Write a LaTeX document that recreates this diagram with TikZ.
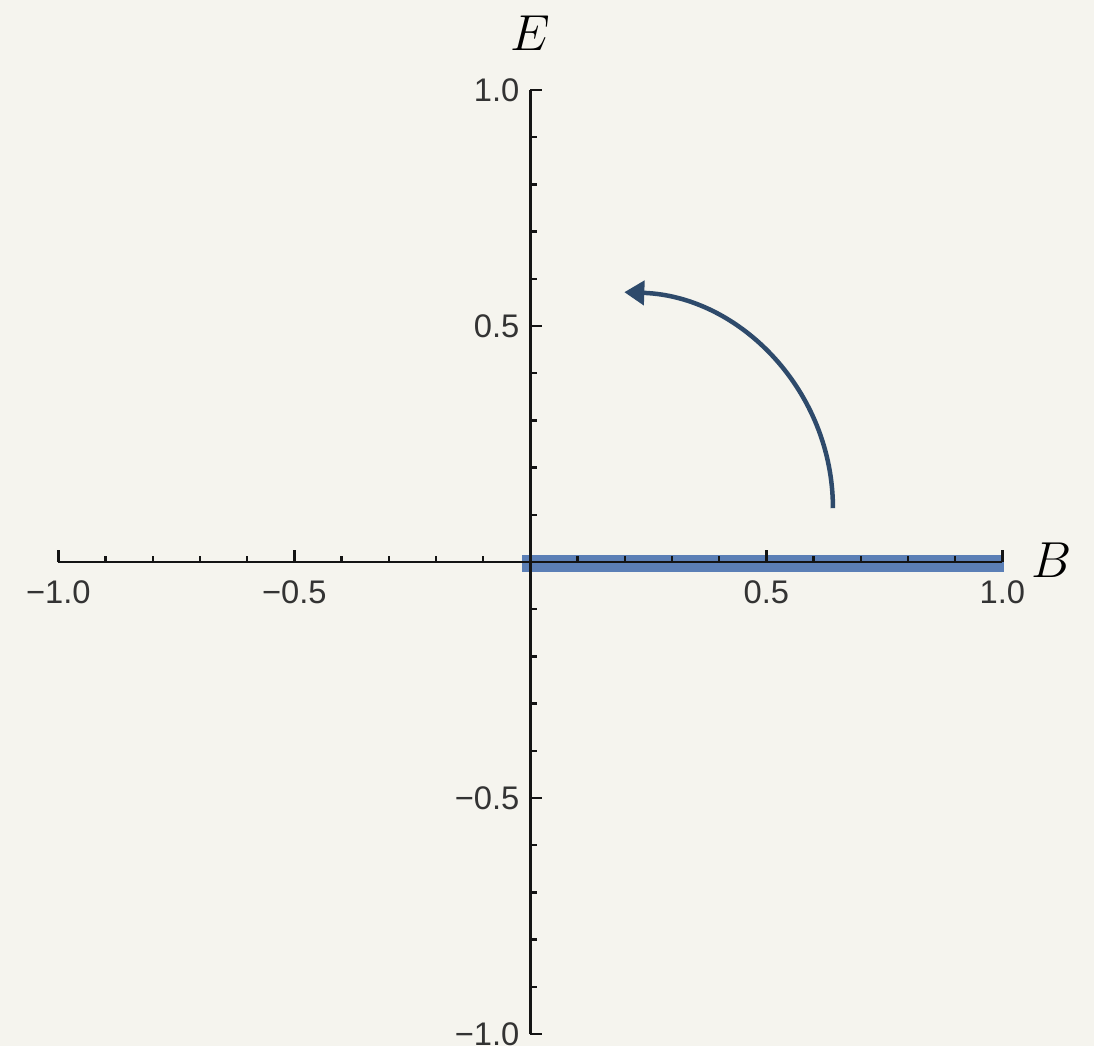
\documentclass[tikz,border=0pt]{standalone}
\usepackage{fontspec}
\newfontfamily\ticksf{Liberation Sans}
\usetikzlibrary{arrows.meta}
\definecolor{bgc}{RGB}{245,244,238}
\definecolor{bandc}{RGB}{91,127,182}
\definecolor{arrowc}{RGB}{46,74,107}
\definecolor{axisc}{RGB}{20,20,20}
\begin{document}
\begin{tikzpicture}[x=4.72cm,y=4.72cm,
  ticklabel/.style={font=\ticksf\fontsize{9.3}{10}\selectfont, text=black!80, inner sep=0pt},
  axisline/.style={draw=axisc, line width=0.027cm},
  majortick/.style={draw=axisc, line width=0.025cm},
  axislabel/.style={font=\fontsize{15}{17}\selectfont, inner sep=0pt},
  turnarrow/.style={draw=arrowc, line width=0.045cm, -{Triangle[length=0.2cm,width=0.24cm]}}]
\useasboundingbox[fill=bgc] (-1.1237,-1.0254) rectangle (1.1941,1.1907);
% band
\fill[bandc] (-0.0178,-0.0212) rectangle (1.0034,0.0148);
% axes
\draw[axisline] (-1,0) -- (1,0);
\draw[axisline] (0,-1) -- (0,1);
\foreach \i in {-10,...,10}{
  \ifnum\i=0\relax\else
    \pgfmathtruncatemacro{\m}{mod(abs(\i),5)}
    \ifnum\m=0
      \draw[majortick] (\i/10,0) -- ++(0,0.12cm);
      \draw[majortick] (0,\i/10) -- ++(0.12cm,0);
    \else
      \draw[majortick] (\i/10,0) -- ++(0,0.065cm);
      \draw[majortick] (0,\i/10) -- ++(0.065cm,0);
    \fi
  \fi
}
% tick labels
\node[ticklabel] (xm10) at (-1,-0.064) {−1.0};
\node[ticklabel] (xm05) at (-0.5,-0.064) {−0.5};
\node[ticklabel] (xp05) at (0.5,-0.064) {0.5};
\node[ticklabel] (xp10) at (1,-0.064) {1.0};
\node[ticklabel,anchor=east] (yp10) at (-0.022,1) {1.0};
\node[ticklabel,anchor=east] (yp05) at (-0.022,0.5) {0.5};
\node[ticklabel,anchor=east] (ym05) at (-0.022,-0.5) {−0.5};
\node[ticklabel,anchor=east] (ym10) at (-0.022,-1) {−1.0};
% axis labels
\node[axislabel] (elabel) at (0,1.121) {$E$};
\node[axislabel] (blabel) at (1.105,0.004) {$B$};
% rotation arrow
\coordinate (arcstart) at (0.641,0.114);
\draw[turnarrow] (arcstart) arc[start angle=0, end angle=88, radius=0.458];
\end{tikzpicture}
\end{document}
